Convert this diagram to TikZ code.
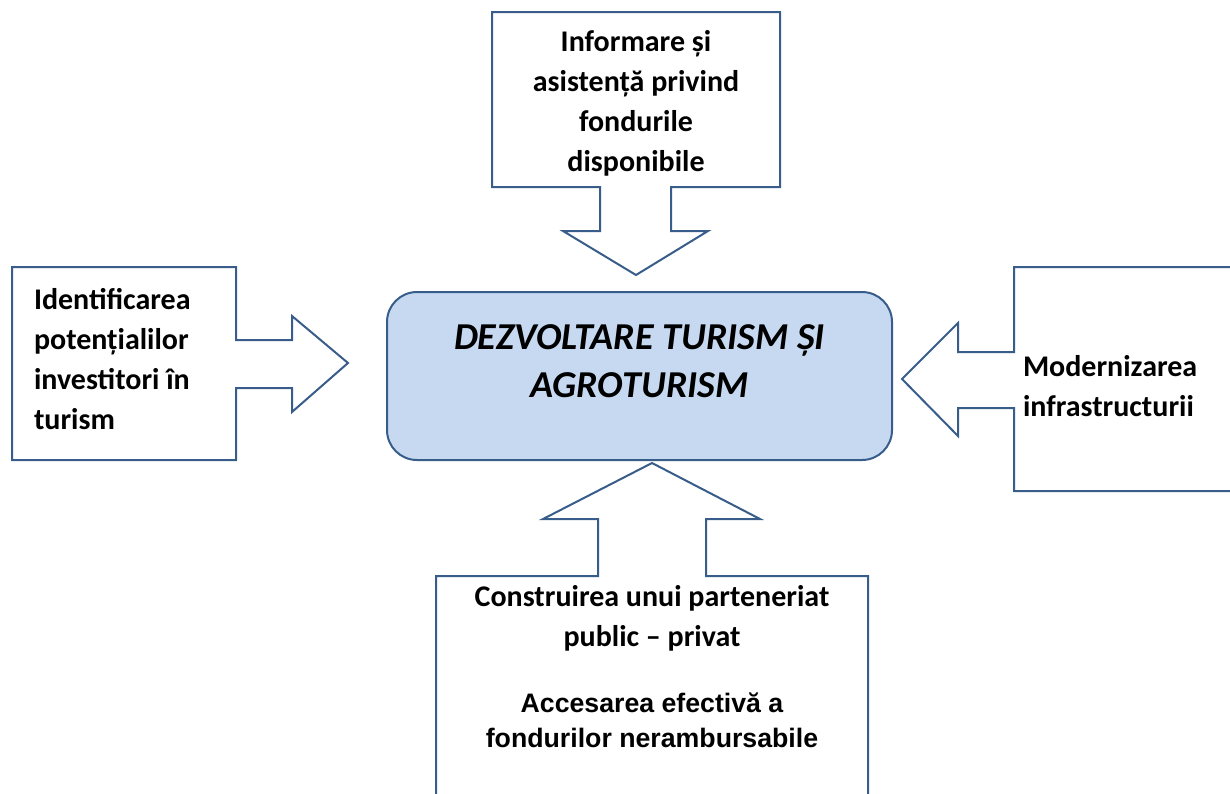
\documentclass[tikz,border=0pt]{standalone}
\usepackage{fontspec}
\setmainfont{Carlito}
\newfontfamily\arialfont{Liberation Sans}
\usetikzlibrary{positioning}

\definecolor{outline}{RGB}{56,93,138}
\definecolor{mainfill}{RGB}{198,217,241}

\begin{document}
\begin{tikzpicture}[x=1pt, y=-1pt, line width=2pt, line join=miter]
	\tikzstyle{callout}=[draw=outline, fill=white]
	\tikzstyle{boxtext}=[font=\bfseries\fontsize{30}{40}\selectfont, inner sep=0pt]
	\tikzstyle{mainbox}=[draw=outline, fill=mainfill, rounded corners=30pt, minimum width=505pt, minimum height=168pt, inner sep=0pt]
	\clip (0,0) rectangle (1230,793);
	% callouts
	\path[callout] (492,12) -- (780,12) -- (780,187) -- (671,187) -- (671,231) -- (708,231) -- (636,275) -- (563,231) -- (600,231) -- (600,187) -- (492,187) -- cycle;
	\path[callout] (12,267) -- (236,267) -- (236,340) -- (292,340) -- (292,316) -- (348,363) -- (292,412) -- (292,388) -- (236,388) -- (236,460) -- (12,460) -- cycle;
	\path[callout] (1014,267) -- (1240,267) -- (1240,491) -- (1014,491) -- (1014,408) -- (958,408) -- (958,436) -- (902,379) -- (958,323) -- (958,352) -- (1014,352) -- cycle;
	\path[callout] (436,800) -- (436,576) -- (598,576) -- (598,519) -- (543,519) -- (652,463) -- (760,519) -- (706,519) -- (706,576) -- (868,576) -- (868,800);
	% centre
	\node[mainbox] (MAIN) at (639.5,376) {};
	\node[font=\bfseries\itshape\fontsize{38}{48}\selectfont, align=center] (TITLE) at ([yshift=15pt]MAIN.center) {DEZVOLTARE TURISM ȘI\\AGROTURISM};
	% texts
	\node[boxtext, align=center] (INFO) at (636,103) {Informare și\\asistență privind\\fondurile\\disponibile};
	\node[boxtext, align=left, anchor=west] (INVEST) at (33,359) {Identificarea\\potențialilor\\investitori în\\turism};
	\node[boxtext, align=left, anchor=west] (INFRA) at (1022,386) {Modernizarea\\infrastructurii};
	\node[boxtext, align=center] (PARTNER) at (652,618) {Construirea unui parteneriat\\public – privat};
	\node[font=\arialfont\bfseries\fontsize{26.7}{35}\selectfont, align=center, inner sep=0pt] (FUNDS) [below=40pt of PARTNER] {Accesarea efectivă a\\fondurilor nerambursabile};
\end{tikzpicture}
\end{document}
